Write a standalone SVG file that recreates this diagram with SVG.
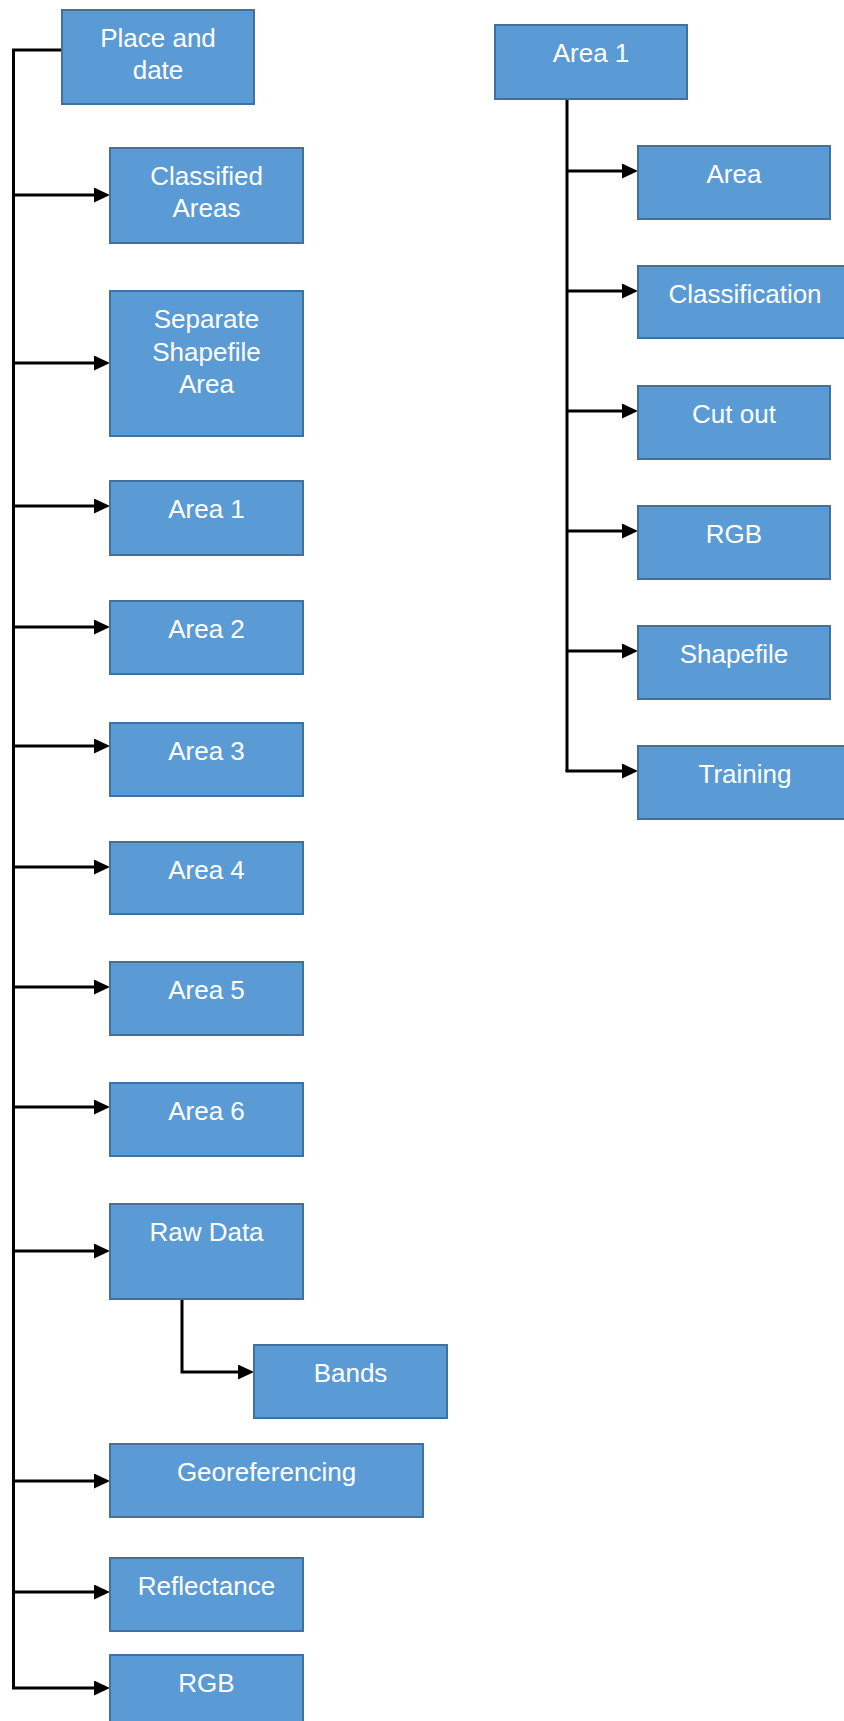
<svg xmlns="http://www.w3.org/2000/svg" width="844" height="1721" viewBox="0 0 844 1721">
<style>
.box{fill:#5B9BD5;stroke:#41719C;stroke-width:2}
.lbl{font-family:"Liberation Sans",Arial,sans-serif;font-size:26px;fill:#ffffff;text-anchor:middle}
.con{fill:none;stroke:#000000;stroke-width:3}
</style>
<defs>
<marker id="arr" markerUnits="userSpaceOnUse" markerWidth="16" markerHeight="15" refX="2" refY="7.5" orient="auto">
<path d="M0,0 L16,7.5 L0,15 z" fill="#000000"/>
</marker>
</defs>
<rect width="844" height="1721" fill="#ffffff"/>
<g id="connectors">
<path class="con" d="M62,50 H13.5 V1688"/>
<path class="con" d="M13.5,195 H96" marker-end="url(#arr)"/>
<path class="con" d="M13.5,363 H96" marker-end="url(#arr)"/>
<path class="con" d="M13.5,506 H96" marker-end="url(#arr)"/>
<path class="con" d="M13.5,627 H96" marker-end="url(#arr)"/>
<path class="con" d="M13.5,746 H96" marker-end="url(#arr)"/>
<path class="con" d="M13.5,867 H96" marker-end="url(#arr)"/>
<path class="con" d="M13.5,987 H96" marker-end="url(#arr)"/>
<path class="con" d="M13.5,1107 H96" marker-end="url(#arr)"/>
<path class="con" d="M13.5,1251 H96" marker-end="url(#arr)"/>
<path class="con" d="M13.5,1481 H96" marker-end="url(#arr)"/>
<path class="con" d="M13.5,1592 H96" marker-end="url(#arr)"/>
<path class="con" d="M12,1688 H96" marker-end="url(#arr)"/>
<path class="con" d="M182,1299 V1372 H240" marker-end="url(#arr)"/>
<path class="con" d="M567,99 V771"/>
<path class="con" d="M567,171 H624" marker-end="url(#arr)"/>
<path class="con" d="M567,291 H624" marker-end="url(#arr)"/>
<path class="con" d="M567,411 H624" marker-end="url(#arr)"/>
<path class="con" d="M567,531 H624" marker-end="url(#arr)"/>
<path class="con" d="M567,651 H624" marker-end="url(#arr)"/>
<path class="con" d="M565.5,771 H624" marker-end="url(#arr)"/>
</g>
<g id="place-and-date"><rect class="box" x="62" y="10" width="192" height="94"/><text class="lbl" x="158" y="47">Place and</text><text class="lbl" x="158" y="79">date</text></g>
<g id="classified-areas"><rect class="box" x="110" y="148" width="193" height="95"/><text class="lbl" x="206.5" y="185">Classified</text><text class="lbl" x="206.5" y="217">Areas</text></g>
<g id="separate-shapefile-area"><rect class="box" x="110" y="291" width="193" height="145"/><text class="lbl" x="206.5" y="328">Separate</text><text class="lbl" x="206.5" y="361">Shapefile</text><text class="lbl" x="206.5" y="393">Area</text></g>
<g id="area-1-left"><rect class="box" x="110" y="481" width="193" height="74"/><text class="lbl" x="206.5" y="518">Area 1</text></g>
<g id="area-2"><rect class="box" x="110" y="601" width="193" height="73"/><text class="lbl" x="206.5" y="638">Area 2</text></g>
<g id="area-3"><rect class="box" x="110" y="723" width="193" height="73"/><text class="lbl" x="206.5" y="760">Area 3</text></g>
<g id="area-4"><rect class="box" x="110" y="842" width="193" height="72"/><text class="lbl" x="206.5" y="879">Area 4</text></g>
<g id="area-5"><rect class="box" x="110" y="962" width="193" height="73"/><text class="lbl" x="206.5" y="999">Area 5</text></g>
<g id="area-6"><rect class="box" x="110" y="1083" width="193" height="73"/><text class="lbl" x="206.5" y="1120">Area 6</text></g>
<g id="raw-data"><rect class="box" x="110" y="1204" width="193" height="95"/><text class="lbl" x="206.5" y="1241">Raw Data</text></g>
<g id="bands"><rect class="box" x="254" y="1345" width="193" height="73"/><text class="lbl" x="350.5" y="1382">Bands</text></g>
<g id="georeferencing"><rect class="box" x="110" y="1444" width="313" height="73"/><text class="lbl" x="266.5" y="1481">Georeferencing</text></g>
<g id="reflectance"><rect class="box" x="110" y="1558" width="193" height="73"/><text class="lbl" x="206.5" y="1595">Reflectance</text></g>
<g id="rgb-left"><rect class="box" x="110" y="1655" width="193" height="80"/><text class="lbl" x="206.5" y="1692">RGB</text></g>
<g id="area-1-right"><rect class="box" x="495" y="25" width="192" height="74"/><text class="lbl" x="591" y="62">Area 1</text></g>
<g id="area"><rect class="box" x="638" y="146" width="192" height="73"/><text class="lbl" x="734" y="183">Area</text></g>
<g id="classification"><rect class="box" x="638" y="266" width="212" height="72"/><text class="lbl" x="745" y="303">Classification</text></g>
<g id="cut-out"><rect class="box" x="638" y="386" width="192" height="73"/><text class="lbl" x="734" y="423">Cut out</text></g>
<g id="rgb-right"><rect class="box" x="638" y="506" width="192" height="73"/><text class="lbl" x="734" y="543">RGB</text></g>
<g id="shapefile"><rect class="box" x="638" y="626" width="192" height="73"/><text class="lbl" x="734" y="663">Shapefile</text></g>
<g id="training"><rect class="box" x="638" y="746" width="212" height="73"/><text class="lbl" x="745" y="783">Training</text></g>
</svg>
